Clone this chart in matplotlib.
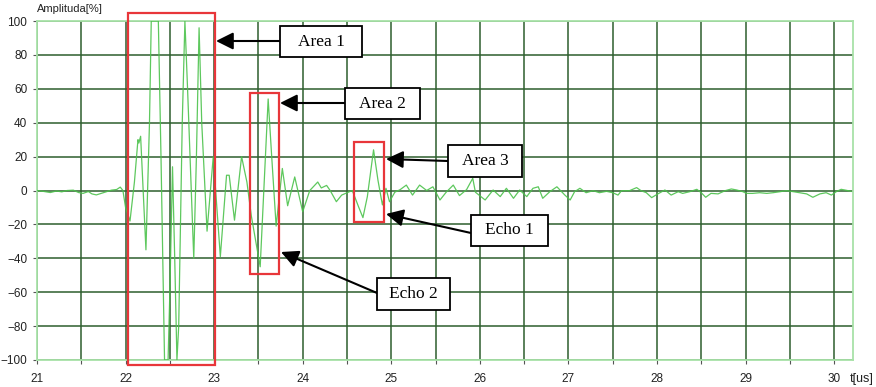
import matplotlib
matplotlib.use("Agg")
import matplotlib.pyplot as plt
from matplotlib.patches import Rectangle

# A-scan trace (time in us, amplitude in %)
t_us = [
    21.00, 21.07, 21.15, 21.22, 21.28, 21.34, 21.41, 21.47, 21.52, 21.58,
    21.62, 21.67, 21.73, 21.79, 21.84, 21.90, 21.94, 21.97,
    22.00, 22.05, 22.10, 22.14, 22.15, 22.17, 22.19, 22.23, 22.27, 22.29,
    22.37, 22.40, 22.44, 22.48, 22.50, 22.53, 22.555, 22.58, 22.60, 22.64,
    22.67, 22.70, 22.77, 22.80, 22.83, 22.86, 22.92, 22.99, 23.07, 23.14,
    23.17, 23.23, 23.31, 23.37, 23.42, 23.47, 23.52, 23.57, 23.61, 23.65,
    23.70, 23.77, 23.83, 23.91, 24.00, 24.08, 24.17, 24.21, 24.27, 24.31,
    24.38, 24.44, 24.53, 24.56, 24.63, 24.68, 24.73, 24.80, 24.85, 24.90,
    24.94, 24.98, 25.04, 25.10, 25.17, 25.24, 25.32, 25.40, 25.47, 25.55,
    25.62, 25.70, 25.77, 25.85, 25.92, 25.95, 26.06, 26.15, 26.23, 26.30,
    26.38, 26.45, 26.53, 26.60, 26.66, 26.71, 26.79, 26.87, 26.96, 27.02,
    27.07, 27.13, 27.20, 27.28, 27.35, 27.43, 27.50, 27.56, 27.60, 27.69,
    27.77, 27.82, 27.88, 27.94, 28.01, 28.09, 28.16, 28.24, 28.29, 28.37,
    28.45, 28.50, 28.55, 28.61, 28.69, 28.77, 28.84, 28.90, 28.97, 29.01,
    29.08, 29.16, 29.24, 29.31, 29.39, 29.46, 29.54, 29.61, 29.69, 29.76,
    29.84, 29.91, 29.97, 30.03, 30.08, 30.14, 30.19,
]
amp = [
    0.0, -0.5, -1.2, -0.3, -0.8, 0.0, 0.2, -1.2, -1.7, -0.6,
    -2.0, -2.6, -1.6, -0.6, 0.2, 0.6, 2.0, 0.0,
    -10, -18, 5, 30, 28, 32, 10, -35, 40, 100,
    100, 20, -100, -100, -60, 14, -40, -100, -80, 40,
    100, 60, -40, 20, 96, 40, -24, 20, -39, 9,
    9, -17.5, 20, 5, -15, -30, -45, 10, 54, 20,
    -21, 13, -9, 8, -12.5, 0, 5, 1.5, 3, 0,
    -6.6, -2.7, -0.7, 0, -9.5, -16, -3.6, 24, 6, -8.5,
    1.3, -6.6, -1, 0.5, 3.2, -2.7, 3.2, 0, 2.2, -5.6,
    -1, 3.2, -3, 0.5, 7.2, -1, -5.6, 0.3, -3.6, 1.3,
    -4.6, 0.3, -3.6, 1.3, 2.2, -4.6, -0.7, 2.2, -2.7, -5.6,
    -0.7, 1.3, -1.3, -0.1, -1.3, -0.5, -1.3, -2.7, -0.1, -0.1,
    1.7, -0.1, -1.3, -4.2, -2.0, 0.3, -2.7, -0.7, -1.7, -0.7,
    0.7, -1.3, -4.0, -1.7, -2.0, -0.1, 0.9, 0.3, -0.7, -1.7,
    -1.7, -1.3, -1.7, -1.3, -0.7, -0.1, -0.7, -1.3, -2.0, -4.0,
    -2.0, -1.3, -2.7, -0.5, 0.7, 0.1, -0.5,
]

# highlighted regions: (t_start, t_end, a_low, a_high)
regions = [
    (22.03, 23.01, -103, 104.5),
    (23.40, 23.73, -49.3, 57.5),
    (24.58, 24.92, -18.4, 28.8),
]

# labels with box (pixel box: x0, y0, x1, y1) and arrow (tail px, head px)
labels = ["Area 1", "Area 2", "Area 3", "Echo 1", "Echo 2"]
label_boxes = [(280, 26, 362, 57), (345, 88, 420, 119), (448, 145, 522, 177),
               (471, 215, 548, 246), (377, 278, 450, 310)]
label_arrows = [((280, 41), (216, 41)), ((345, 103), (280, 103)),
                ((448, 161), (386, 159)), ((471, 233), (386, 214)),
                ((377, 293), (281, 252))]

W, H = 876, 387


def px(x, y):
    return (x / W, 1 - y / H)


fig = plt.figure(figsize=(W / 100, H / 100), dpi=100)
ax = fig.add_axes([37 / W, 1 - 360 / H, (852.7 - 37) / W, (360 - 21) / H])

ax.set_xlim(21, 30.21)
ax.set_ylim(-100, 100)

ax.set_xticks([21 + 0.5 * i for i in range(19)])
ax.set_xticklabels([str(21 + i // 2) if i % 2 == 0 else "" for i in range(19)])
ax.set_yticks(range(-100, 101, 20))
ax.tick_params(axis="both", length=3, color="#555555", labelsize=8.5,
               labelcolor="#222222")
ax.tick_params(axis="x", pad=6)
ax.tick_params(axis="y", pad=4)
for lab in ax.get_xticklabels() + ax.get_yticklabels():
    lab.set_family("Liberation Sans")

ax.grid(True, color="#2f5f2f", linewidth=1.3, alpha=0.85)
ax.set_axisbelow(True)
for s in ax.spines.values():
    s.set_color("#a8e2a8")
    s.set_linewidth(1.3)

ax.plot(t_us, amp, color="#4cc24c", linewidth=0.9, alpha=0.9, zorder=3)

for t0, t1, a0, a1 in regions:
    ax.add_patch(Rectangle((t0, a0), t1 - t0, a1 - a0, fill=False,
                           edgecolor="#e8363a", linewidth=1.6,
                           clip_on=False, zorder=4))

for text, (x0, y0, x1, y1), (tail, head) in zip(labels, label_boxes, label_arrows):
    fx0, fy1 = px(x0, y1)
    fx1, fy0 = px(x1, y0)
    fig.add_artist(Rectangle((fx0, fy1), fx1 - fx0, fy0 - fy1,
                             transform=fig.transFigure, facecolor="white",
                             edgecolor="black", linewidth=1.3, zorder=5))
    cx, cy = px((x0 + x1) / 2, (y0 + y1) / 2)
    fig.text(cx, cy, text, ha="center", va="center", fontsize=12.5,
             family="Liberation Serif", zorder=6)
    ax.annotate("", xy=px(*head), xycoords="figure fraction",
                xytext=px(*tail), textcoords="figure fraction",
                arrowprops=dict(arrowstyle="-|>", color="black", lw=1.5,
                                mutation_scale=26, shrinkA=0, shrinkB=0),
                annotation_clip=False, zorder=6)

fig.text(*px(37, 9), "Amplituda[%]", fontsize=8, va="center",
         family="Liberation Sans", color="#222222")
fig.text(*px(862, 379), "t[us]", fontsize=9, ha="center", va="center",
         family="Liberation Sans", color="#222222")

fig.savefig("out.png", dpi=100)
